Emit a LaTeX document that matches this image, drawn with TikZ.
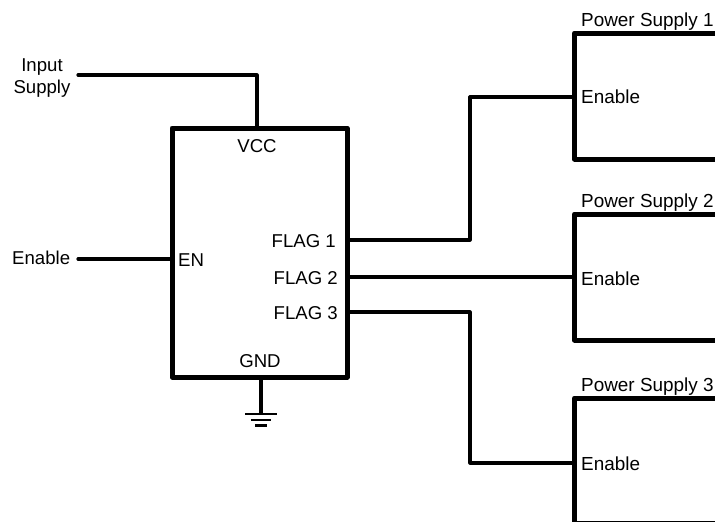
\documentclass[tikz,border=0pt]{standalone}
\usepackage{fontspec}
\setmainfont{Liberation Sans}
\tikzset{
  block/.style={draw=black,line width=5pt,line join=round,inner sep=0pt,outer sep=0pt,anchor=north west},
  wire/.style={draw=black,line width=3.2pt,line join=round},
  lab/.style={inner sep=0pt,font=\fontsize{18.6}{20}\selectfont,text=black},
  labwide/.style={lab,font=\fontsize{18.9}{20}\selectfont},
  gbar/.style={draw=black,line width=2.6pt}
}
\begin{document}
\begin{tikzpicture}[x=1pt,y=-1pt]
\useasboundingbox (0,0) rectangle (715,522);
\clip (0,0) rectangle (715,522);
% blocks
\node[block,minimum width=175pt,minimum height=249pt] (ic) at (172,128) {};
\node[block,minimum width=160pt,minimum height=126pt] (ps1) at (574.5,33) {};
\node[block,minimum width=160pt,minimum height=126pt] (ps2) at (574.5,214) {};
\node[block,minimum width=160pt,minimum height=125.8pt] (ps3) at (574.5,398) {};
% free ends and pins
\coordinate (inEnd) at (78,75);
\coordinate (enEnd) at (78,259);
\coordinate (vccPin) at (257,128);
\coordinate (enPin) at (172,259);
\coordinate (f1) at (347,240);
\coordinate (f2) at (347,277);
\coordinate (f3) at (347,312);
\coordinate (e1) at (574.5,97);
\coordinate (e2) at (574.5,277);
\coordinate (e3) at (574.5,463);
\coordinate (gndPin) at (261,377);
\coordinate (gndEnd) at (261,414);
\coordinate (b1l) at (245,414); \coordinate (b1r) at (277,414);
\coordinate (b2l) at (251,420); \coordinate (b2r) at (271,420);
\coordinate (b3l) at (255,425.5); \coordinate (b3r) at (267,425.5);
% wires
\draw[wire,line cap=round] (inEnd) -| (vccPin);
\draw[wire,line cap=round] (enEnd) -- (enPin);
\draw[wire] (f1) -- (470,240) |- (e1);
\draw[wire] (f2) -- (e2);
\draw[wire] (f3) -- (470,312) |- (e3);
\draw[wire] (gndPin) -- (gndEnd);
\draw[gbar] (b1l) -- (b1r);
\draw[gbar] (b2l) -- (b2r);
\draw[gbar] (b3l) -- (b3r);
% labels
\node[lab,anchor=base] (tin) at (42,71) {Input};
\node[lab,anchor=base] (tsu) at (42,93) {Supply};
\node[lab,anchor=base west] (ten) at (12,264) {Enable};
\node[lab,anchor=base] (tvcc) at (257,152) {VCC};
\node[lab,anchor=base west] (tenp) at (178,266) {EN};
\node[lab,anchor=base] (tgnd) at (260,367) {GND};
\node[lab,anchor=base east] (tf1) at (336,247) {FLAG 1};
\node[lab,anchor=base east] (tf2) at (338,284) {FLAG 2};
\node[lab,anchor=base east] (tf3) at (338,319) {FLAG 3};
\node[labwide,anchor=base west] (tp1) at (581,26) {Power Supply 1};
\node[labwide,anchor=base west] (tp2) at (581,207) {Power Supply 2};
\node[labwide,anchor=base west] (tp3) at (581,391) {Power Supply 3};
\node[labwide,anchor=base west] (te1) at (581,103) {Enable};
\node[labwide,anchor=base west] (te2) at (581,285) {Enable};
\node[labwide,anchor=base west] (te3) at (581,470) {Enable};
\end{tikzpicture}
\end{document}
